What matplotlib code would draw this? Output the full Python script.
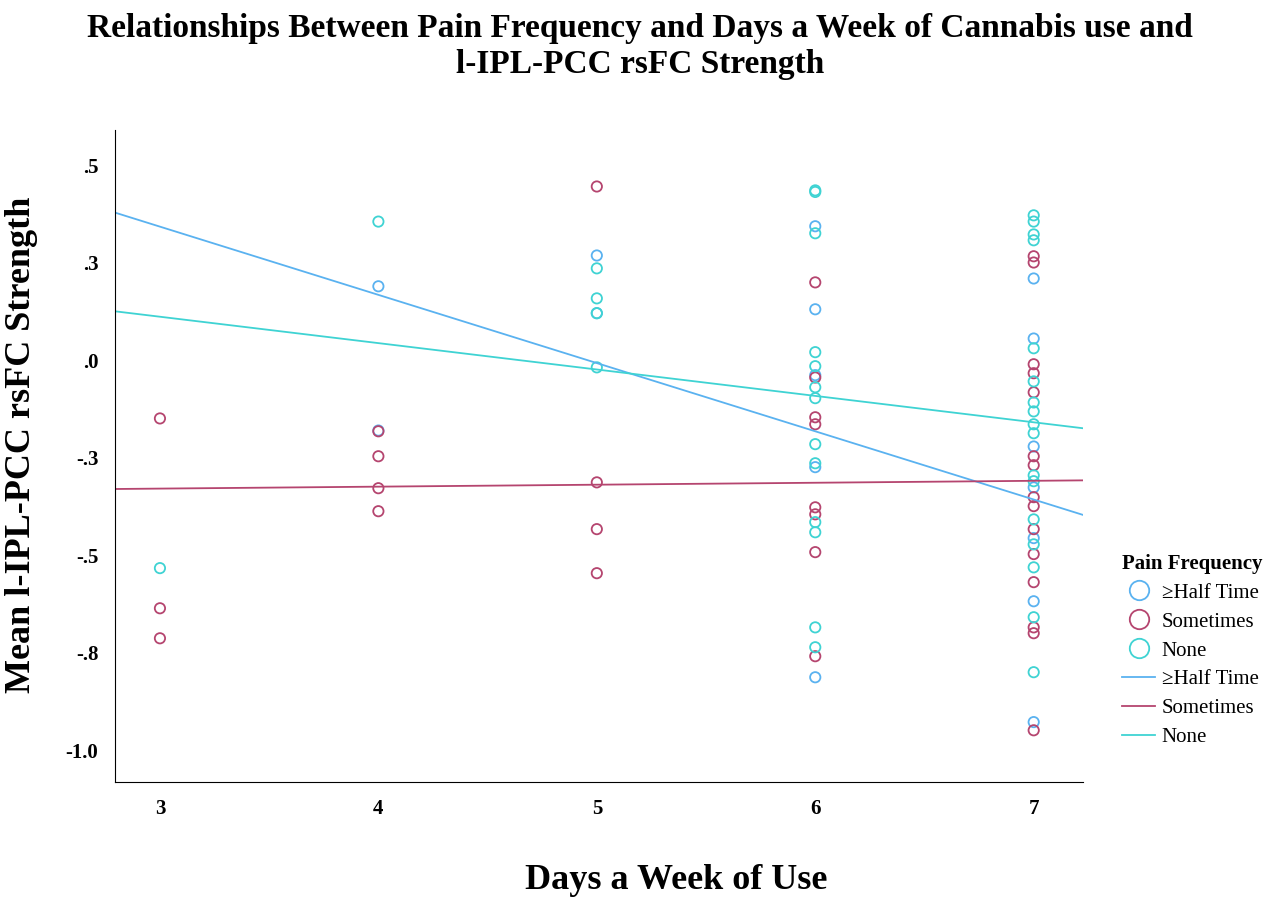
import matplotlib
matplotlib.use("Agg")
import matplotlib.pyplot as plt
from matplotlib.lines import Line2D
import numpy as np

plt.rcParams['font.family'] = ['Liberation Serif', 'DejaVu Serif']

half_x = [4, 4, 5, 5, 6, 6, 6, 6, 6, 7, 7, 7, 7, 7, 7, 7]
half_y = [0.19, -0.18, 0.269, 0.121, 0.344, 0.131, -0.038, -0.274, -0.813,
          0.21, 0.056, -0.221, -0.326, -0.456, -0.618, -0.928]

some_x = [3, 3, 3, 4, 4, 4, 4, 5, 5, 5, 5,
          6, 6, 6, 6, 6, 6, 6, 6,
          7, 7, 7, 7, 7, 7, 7, 7, 7, 7, 7, 7, 7, 7, 7]
some_y = [-0.149, -0.636, -0.713, -0.182, -0.246, -0.328, -0.387, 0.446, -0.313, -0.433, -0.546,
          0.2, -0.044, -0.146, -0.164, -0.377, -0.395, -0.492, -0.759,
          0.267, 0.251, -0.01, -0.033, -0.082, -0.246, -0.269, -0.351, -0.374, -0.433, -0.497, -0.569, -0.685, -0.7, -0.949]

none_x = [3, 4, 5, 5, 5, 5,
          6, 6, 6, 6, 6, 6, 6, 6, 6, 6, 6, 6, 6,
          7, 7, 7, 7, 7, 7, 7, 7, 7, 7, 7, 7, 7, 7, 7, 7, 7]
none_y = [-0.533, 0.356, 0.236, 0.159, 0.121, -0.018,
          0.436, 0.432, 0.326, 0.021, -0.015, -0.069, -0.097, -0.215, -0.264, -0.415, -0.441, -0.685, -0.736,
          0.372, 0.356, 0.323, 0.308, 0.031, -0.054, -0.108, -0.131, -0.164, -0.187, -0.295, -0.31, -0.408, -0.472, -0.531, -0.659, -0.8]

# fit lines (intercept, slope)
fit_half = (0.868, -0.175)
fit_some = (-0.344, 0.005)
fit_none = (0.315, -0.0677)

c_half = '#5ab2f0'
c_some = '#b5456f'
c_none = '#3fd3d3'

fig = plt.figure(figsize=(12.8, 8.99), dpi=100)
ax = fig.add_axes([0.0898, 0.130, 0.756, 0.725])
xlim = (2.794, 7.224)
for xs, ys, c in [(half_x, half_y, c_half), (some_x, some_y, c_some), (none_x, none_y, c_none)]:
    ax.scatter(xs, ys, s=55, facecolors='none', edgecolors=c, linewidths=1.3)
xx = np.array(xlim)
for (b, m), c in [(fit_half, c_half), (fit_some, c_some), (fit_none, c_none)]:
    ax.plot(xx, b + m * xx, color=c, lw=1.3)
ax.set_xlim(*xlim)
ax.set_ylim(-1.082, 0.59)
ax.set_xticks([3, 4, 5, 6, 7])
ax.set_yticks([0.5, 0.25, 0, -0.25, -0.5, -0.75, -1.0])
ax.set_yticklabels(['.5', '.3', '.0', '-.3', '-.5', '-.8', '-1.0'])
for lab in ax.get_xticklabels() + ax.get_yticklabels():
    lab.set_fontweight('bold'); lab.set_fontsize(15)
ax.tick_params(length=0, pad=12)
for s in ['top', 'right']:
    ax.spines[s].set_visible(False)
fig.text(0.528, 0.021, 'Days a Week of Use', fontsize=26, fontweight='bold', ha='center', va='center')
fig.text(0.017, 0.505, 'Mean l-IPL-PCC rsFC Strength', fontsize=26, fontweight='bold',
         ha='center', va='center', rotation=90)
fig.suptitle('Relationships Between Pain Frequency and Days a Week of Cannabis use and\nl-IPL-PCC rsFC Strength',
             fontsize=24, fontweight='bold', y=0.985, linespacing=1.2)

handles = [Line2D([], [], ls='none', marker='o', ms=14, mfc='none', mec=c_half, mew=1.3),
           Line2D([], [], ls='none', marker='o', ms=14, mfc='none', mec=c_some, mew=1.3),
           Line2D([], [], ls='none', marker='o', ms=14, mfc='none', mec=c_none, mew=1.3),
           Line2D([], [], color=c_half, lw=1.3),
           Line2D([], [], color=c_some, lw=1.3),
           Line2D([], [], color=c_none, lw=1.3)]
labels = ['≥Half Time', 'Sometimes', 'None', '≥Half Time', 'Sometimes', 'None']
leg = fig.legend(handles, labels, loc='upper left', bbox_to_anchor=(0.862, 0.405), frameon=False,
                 title='Pain Frequency', fontsize=15, handlelength=1.6, labelspacing=0.45,
                 title_fontproperties={'weight': 'bold', 'size': 15}, handletextpad=0.3)
leg._legend_box.align = 'left'
fig.savefig('out.png', dpi=100)
